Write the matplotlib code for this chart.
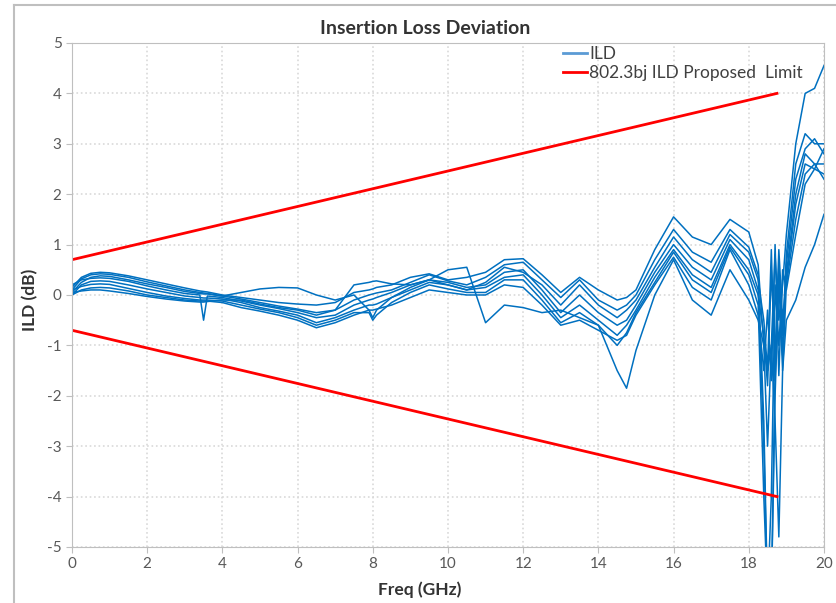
import matplotlib
matplotlib.use("Agg")
import matplotlib.pyplot as plt
from matplotlib.lines import Line2D

plt.rcParams['font.family'] = ['Lato', 'DejaVu Sans']
plt.rcParams['axes.unicode_minus'] = False

# Frequency points (GHz) shared by all ILD traces
freq = [0, 0.25, 0.5, 0.75, 1.0, 1.5, 2.0, 2.5, 3.0, 3.4, 3.5, 3.6, 4.0, 4.5,
        5.0, 5.5, 6.0, 6.5, 7.0, 7.5, 7.9, 8.0, 8.1, 8.5, 9.0, 9.5, 10.0, 10.5,
        11.0, 11.5, 12.0, 12.5, 13.0, 13.5, 14.0, 14.5, 14.75, 15.0, 15.5, 16.0,
        16.5, 17.0, 17.5, 18.0, 18.25, 18.4, 18.5, 18.6, 18.7, 18.8, 18.9, 19.0,
        19.25, 19.5, 19.75, 20.0]

# ILD traces (dB)
ild_1 = [0.15, 0.35, 0.43, 0.45, 0.44, 0.38, 0.30, 0.22, 0.14, 0.08, 0.07, 0.06, 0.00, -0.05,
         -0.10, -0.15, -0.18, -0.20, -0.15, 0.05, 0.10, 0.12, 0.15, 0.20, 0.35, 0.42, 0.30, 0.35,
         0.45, 0.70, 0.72, 0.40, 0.05, 0.35, 0.10, -0.10, -0.05, 0.10, 0.90, 1.55,
         1.15, 1.00, 1.50, 1.25, 0.60, -1.00, -3.00, -1.00, 0.80, -0.50, 0.20, 1.20,
         3.00, 4.00, 4.10, 4.55]
ild_2 = [0.10, 0.32, 0.40, 0.42, 0.41, 0.35, 0.26, 0.18, 0.10, 0.05, 0.04, 0.03, -0.02, -0.08,
         -0.15, -0.22, -0.28, -0.35, -0.30, -0.10, 0.00, 0.02, 0.04, 0.10, 0.25, 0.40, 0.28, 0.20,
         0.35, 0.60, 0.65, 0.30, -0.05, 0.30, -0.10, -0.30, -0.20, 0.00, 0.70, 1.30,
         0.85, 0.65, 1.30, 0.95, 0.40, -2.50, -6.00, -6.00, -1.50, 0.50, -0.80, 0.80,
         2.60, 3.20, 3.00, 3.00]
ild_3 = [0.05, 0.25, 0.35, 0.38, 0.37, 0.30, 0.22, 0.15, 0.07, 0.03, 0.02, 0.02, -0.02, 0.05,
         0.12, 0.15, 0.14, 0.00, -0.10, 0.00, -0.30, -0.45, -0.30, -0.05, 0.15, 0.30, 0.20, 0.10,
         0.25, 0.55, 0.45, 0.20, -0.20, 0.20, -0.20, -0.45, -0.30, -0.10, 0.55, 1.15,
         0.70, 0.45, 1.20, 0.85, 0.30, -0.50, -1.50, 0.90, -1.70, 0.60, -1.20, 0.60,
         2.30, 2.90, 3.10, 2.80]
ild_4 = [0.20, 0.30, 0.33, 0.34, 0.33, 0.27, 0.18, 0.10, 0.03, 0.00, -0.50, -0.02, -0.05, -0.12,
         -0.20, -0.27, -0.35, -0.45, -0.40, -0.20, -0.10, -0.08, -0.05, 0.05, 0.20, 0.30, 0.25, 0.15,
         0.20, 0.45, 0.50, 0.10, -0.35, 0.00, -0.35, -0.60, -0.50, -0.20, 0.45, 1.00,
         0.55, 0.30, 1.10, 0.70, 0.10, -3.00, -6.00, -4.00, 0.20, -1.00, 0.30, 0.40,
         2.00, 2.80, 2.60, 2.60]
ild_5 = [0.00, 0.20, 0.27, 0.28, 0.27, 0.20, 0.12, 0.05, -0.02, -0.05, -0.06, -0.06, -0.08, -0.15,
         -0.25, -0.32, -0.40, -0.55, -0.45, -0.30, -0.20, -0.20, -0.18, -0.05, 0.10, 0.25, 0.20, 0.10,
         0.15, 0.35, 0.40, 0.00, -0.45, -0.20, -0.50, -0.80, -0.60, -0.30, 0.35, 0.90,
         0.40, 0.15, 1.00, 0.50, 0.00, -0.80, -1.80, 0.50, -1.20, 0.90, -0.50, 0.30,
         1.80, 2.60, 2.50, 2.40]
ild_6 = [0.10, 0.17, 0.21, 0.22, 0.21, 0.13, 0.05, -0.02, -0.07, -0.10, -0.10, -0.10, -0.12, -0.20,
         -0.28, -0.35, -0.45, -0.60, -0.50, -0.35, -0.35, -0.50, -0.40, -0.15, 0.05, 0.20, 0.12, 0.05,
         0.05, 0.30, 0.30, -0.10, -0.55, -0.35, -0.60, -1.00, -0.75, -0.35, 0.25, 0.85,
         0.30, 0.05, 0.95, 0.40, -0.20, -4.00, -6.00, -6.00, -2.00, 0.30, -1.50, 0.20,
         1.50, 2.40, 2.60, 2.30]
ild_7 = [0.00, 0.10, 0.14, 0.15, 0.14, 0.08, 0.00, -0.05, -0.10, -0.12, -0.12, -0.12, -0.15, -0.25,
         -0.32, -0.40, -0.50, -0.65, -0.55, -0.40, -0.30, -0.30, -0.28, -0.20, -0.05, 0.10, 0.05, 0.00,
         0.00, 0.20, 0.15, -0.20, -0.60, -0.50, -0.70, -0.90, -0.80, -0.40, 0.20, 0.75,
         0.15, -0.10, 0.90, 0.20, -0.40, -1.50, -0.30, -1.70, 1.00, -1.60, 0.50, 0.10,
         1.20, 2.20, 2.50, 2.90]
ild_8 = [0.05, 0.08, 0.10, 0.10, 0.08, 0.03, -0.03, -0.08, -0.12, -0.14, -0.14, -0.13, -0.10, -0.10,
         -0.18, -0.25, -0.30, -0.40, -0.30, 0.20, 0.25, 0.27, 0.28, 0.22, 0.20, 0.30, 0.50, 0.55,
         -0.55, -0.20, -0.25, -0.35, -0.30, -0.45, -0.60, -1.50, -1.85, -1.10, 0.00, 0.70,
         -0.10, -0.40, 0.50, -0.10, -0.50, -1.00, -1.50, -1.00, -2.50, -4.80, -1.50, -0.50,
         -0.10, 0.55, 1.00, 1.60]
ild_traces = [ild_1, ild_2, ild_3, ild_4, ild_5, ild_6, ild_7, ild_8]

# 802.3bj proposed ILD limit (end points)
limit_freq = [0, 18.75]
limit_upper = [0.7, 4.0]
limit_lower = [-0.7, -4.0]

fig = plt.figure(figsize=(8.36, 6.03), dpi=100)
ax = fig.add_axes([0.0861, 0.0929, 0.8995, 0.8358])

for tr in ild_traces:
    ax.plot(freq, tr, color='#0070C0', lw=1.1)
ax.plot(limit_freq, limit_upper, color='#FF0000', lw=2)
ax.plot(limit_freq, limit_lower, color='#FF0000', lw=2)

ax.set_xlim(0, 20)
ax.set_ylim(-5, 5)
ax.set_xticks(range(0, 21, 2))
ax.set_yticks(range(-5, 6))
ax.grid(True, color='#d9d9d9', linestyle=':', lw=1.2)
for s in ax.spines.values():
    s.set_color('#bfbfbf')
ax.tick_params(colors='#bfbfbf', labelcolor='#595959', labelsize=11, length=4)

fig.text(425 / 836, 1 - 28 / 603, 'Insertion Loss Deviation', fontsize=14,
         fontweight='bold', color='#333333', ha='center', va='center')
ax.set_xlabel('Freq (GHz)', fontsize=12.5, fontweight='bold', color='#333333')
ax.xaxis.set_label_coords(459 / 836 - 0.0861, -0.068)
ax.set_ylabel('ILD (dB)', fontsize=12.5, fontweight='bold', color='#333333')
ax.yaxis.set_label_coords(-0.045, 0.49)

handles = [Line2D([], [], color='#5B9BD5', lw=2),
           Line2D([], [], color='#FF0000', lw=2)]
ax.legend(handles, ['ILD', '802.3bj ILD Proposed  Limit'], loc='upper right',
          bbox_to_anchor=(0.993, 1.025), frameon=False, fontsize=12.5,
          handlelength=1.4, handletextpad=0.15, labelspacing=0.2,
          labelcolor='#404040')

# chart area border
fig.add_artist(Line2D([14 / 836, 14 / 836], [0, 1 - 5 / 603], color='#bfbfbf', lw=1.5))
fig.add_artist(Line2D([14 / 836, 1], [1 - 5 / 603, 1 - 5 / 603], color='#bfbfbf', lw=1.5))

fig.savefig('out.png', dpi=100)
